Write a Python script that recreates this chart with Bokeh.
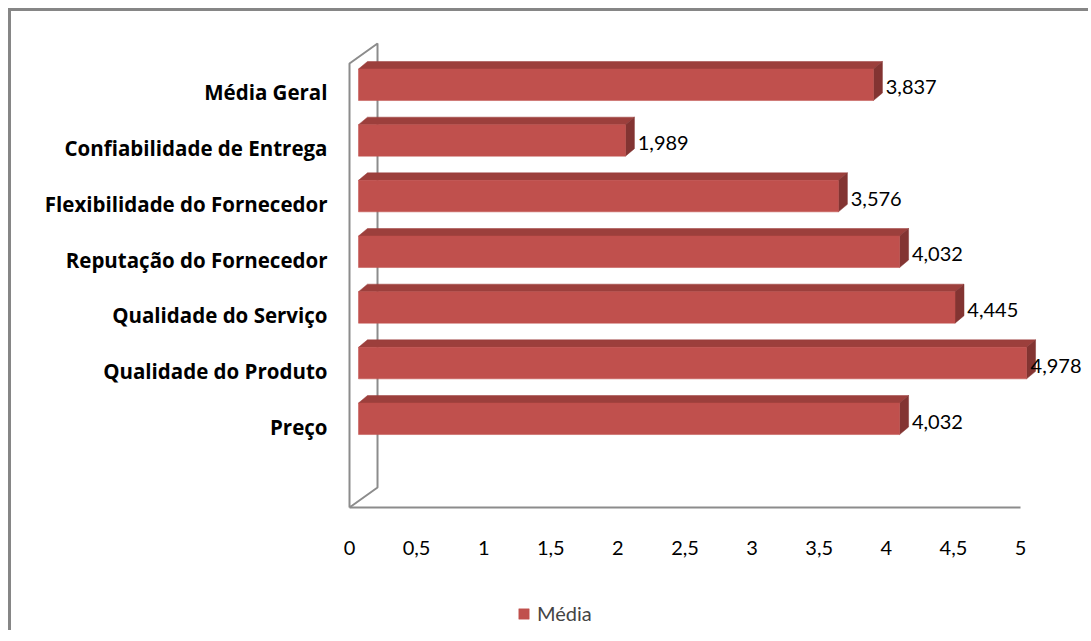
from bokeh.plotting import figure
from bokeh.models import Range1d, FixedTicker, ColumnDataSource, Legend, LegendItem
from bokeh.core.properties import value
from bokeh.embed import file_html
from bokeh.resources import INLINE

# ---- data ----
categories = ["Preço", "Qualidade do Produto", "Qualidade do Serviço",
              "Reputação do Fornecedor", "Flexibilidade do Fornecedor",
              "Confiabilidade de Entrega", "Média Geral"]
values = [4.032, 4.978, 4.445, 4.032, 3.576, 1.989, 3.837]
x_ticks = [0, 0.5, 1, 1.5, 2, 2.5, 3, 3.5, 4, 4.5, 5]
x_tick_labels = ["0", "0,5", "1", "1,5", "2", "2,5", "3", "3,5", "4", "4,5", "5"]
series_name = "Média"

# ---- style / geometry constants (3-D look) ----
FONT = "Lato"
CAT_FONT = "Open Sans"
FRONT = "#C0504D"
TOP = "#9C3F3C"
SIDE = "#833432"
WALL = "#8C8C8C"
BAR_X0 = 0.067          # bars sit a bit behind the front floor edge
BAR_DX = 0.067          # bar depth (x)
BAR_DY = 0.135          # bar depth (y)
BAR_B, BAR_T = -0.144, 0.422
WALL_DX, WALL_DY = 0.2087, 0.36
FLOOR_Y, WALL_TOP = -1.455, 6.52
X_MAX = 5
LABEL_X_LIMIT = 5.075   # keep value labels inside the chart area

p = figure(width=1080, height=622, output_backend="svg", toolbar_location=None,
           x_range=Range1d(-0.082, 5.529), y_range=Range1d(-3.718, 7.455),
           min_border_left=327, min_border_right=0, min_border_top=0,
           min_border_bottom=0)
p.styles = {"margin-left": "8px", "margin-top": "8px",
            "border-top": "3px solid #868686", "border-left": "3px solid #868686"}
p.outline_line_color = None
p.grid.visible = False
p.background_fill_color = "white"
p.border_fill_color = "white"

# walls + floor edge
p.multi_line(xs=[[0, 0, WALL_DX, WALL_DX, 0], [0, X_MAX]],
             ys=[[FLOOR_Y, WALL_TOP, WALL_TOP + WALL_DY, FLOOR_Y + WALL_DY, FLOOR_Y],
                 [FLOOR_Y, FLOOR_Y]],
             line_color=WALL, line_width=2)

idx = list(range(len(categories)))
x1 = [v + BAR_X0 for v in values]
yb = [i + BAR_B for i in idx]
yt = [i + BAR_T for i in idx]

top_xs = [[BAR_X0, r, r + BAR_DX, BAR_X0 + BAR_DX] for r in x1]
top_ys = [[t, t, t + BAR_DY, t + BAR_DY] for t in yt]
side_xs = [[r, r + BAR_DX, r + BAR_DX, r] for r in x1]
side_ys = [[b, b + BAR_DY, t + BAR_DY, t] for b, t in zip(yb, yt)]
p.patches(xs=top_xs, ys=top_ys, fill_color=TOP, line_color=TOP, line_width=0.5)
p.patches(xs=side_xs, ys=side_ys, fill_color=SIDE, line_color=SIDE, line_width=0.5)

src = ColumnDataSource(dict(left=[BAR_X0] * len(values), right=x1, bottom=yb, top=yt,
                            val=values, idx=idx))
front = p.quad(left="left", right="right", bottom="bottom", top="top", source=src,
               fill_color=FRONT, line_color=FRONT, line_width=0.5)

# value labels
lab_src = ColumnDataSource(dict(
    x=[min(v + BAR_X0 + BAR_DX + 0.025, LABEL_X_LIMIT) for v in values],
    y=[i + 0.09 for i in idx],
    t=[f"{v:.3f}".replace(".", ",") for v in values]))
p.text(x="x", y="y", text="t", source=lab_src, text_align="left",
       text_baseline="middle", text_font=value(FONT), text_font_size="20px",
       text_color="#000000")

# axes
p.xaxis.fixed_location = FLOOR_Y
p.xaxis.ticker = FixedTicker(ticks=x_ticks)
p.xaxis.major_label_overrides = {t: l for t, l in zip(x_ticks, x_tick_labels)}
p.yaxis.ticker = FixedTicker(ticks=idx)
p.yaxis.major_label_overrides = {i: c for i, c in zip(idx, categories)}
for ax in (p.xaxis[0], p.yaxis[0]):
    ax.axis_line_color = None
    ax.major_tick_line_color = None
    ax.minor_tick_line_color = None
    ax.major_tick_out = 0
    ax.major_tick_in = 0
    ax.major_label_text_font = FONT
    ax.major_label_text_font_size = "20px"
    ax.major_label_text_color = "#000000"
p.xaxis.major_label_standoff = 33
p.yaxis.major_label_standoff = 11
p.yaxis.major_label_text_font = CAT_FONT
p.yaxis.major_label_text_font_size = "20.5px"
p.yaxis.major_label_text_font_style = "bold"

legend = Legend(items=[LegendItem(label=series_name, renderers=[front])],
                location=(179, 8), border_line_color=None,
                background_fill_alpha=0, padding=0, margin=0,
                glyph_width=13, glyph_height=13, label_standoff=7,
                label_height=20, label_text_font=FONT,
                label_text_font_size="20px", spacing=0)
p.add_layout(legend)

open("out.html", "w").write(file_html(p, INLINE))
